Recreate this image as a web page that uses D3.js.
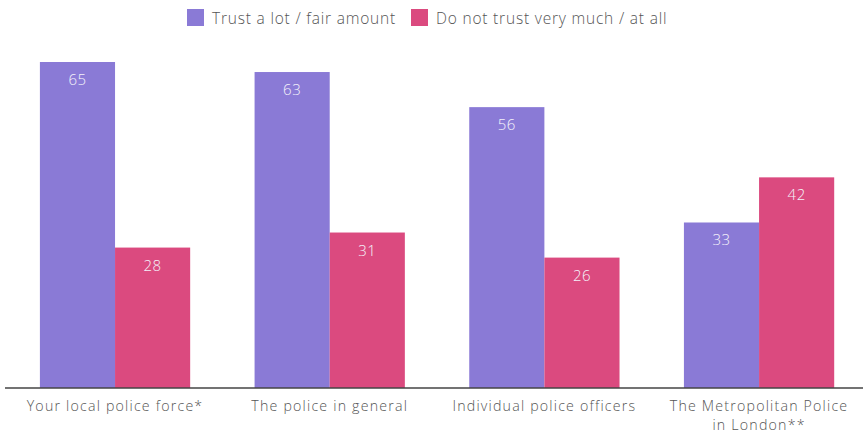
<!DOCTYPE html>
<html>
<head>
<meta charset="utf-8">
<script src="https://cdn.jsdelivr.net/npm/d3@7"></script>
<style>
  html, body { margin: 0; padding: 0; background: #fff; }
  svg { display: block; font-family: "Open Sans", Lato, sans-serif; font-weight: 300; }
</style>
</head>
<body>
<svg id="chart" width="863" height="435"></svg>
<script>
// Survey categories and the two response groups
const categories = [
  ["Your local police force*"],
  ["The police in general"],
  ["Individual police officers"],
  ["The Metropolitan Police", "in London**"]
];
const seriesNames = ["Trust a lot / fair amount", "Do not trust very much / at all"];
const trustValues = [65, 63, 56, 33];
const distrustValues = [28, 31, 26, 42];
const colors = ["#8a7ad6", "#db4a7f"];

const svg = d3.select("#chart");
const baseY = 388;

const x0 = d3.scaleBand()
  .domain(d3.range(categories.length))
  .range([7.7, 866.4])
  .paddingInner(0.3)
  .paddingOuter(0.15);

const x1 = d3.scaleBand()
  .domain([0, 1])
  .range([0, x0.bandwidth()]);

const y = d3.scaleLinear().domain([0, 65]).range([baseY, 62]);

const rows = categories.map((c, i) => [trustValues[i], distrustValues[i]]);

const groups = svg.append("g").selectAll("g")
  .data(rows)
  .join("g")
  .attr("transform", (d, i) => `translate(${x0(i)},0)`);

groups.selectAll("rect")
  .data(d => d)
  .join("rect")
  .attr("x", (d, j) => x1(j))
  .attr("width", x1.bandwidth())
  .attr("y", d => y(d))
  .attr("height", d => baseY - y(d))
  .attr("fill", (d, j) => colors[j]);

groups.selectAll("text.val")
  .data(d => d)
  .join("text")
  .attr("class", "val")
  .attr("x", (d, j) => x1(j) + x1.bandwidth() / 2)
  .attr("y", d => y(d) + 23)
  .attr("text-anchor", "middle")
  .attr("fill", "#f4f2fa")
  .attr("font-size", 15)
  .attr("letter-spacing", 0.5)
  .text(d => d);

// Baseline axis
const axis = d3.axisBottom(x0).tickSize(0).tickFormat("");
const axisG = svg.append("g").attr("transform", `translate(0,${baseY})`).call(axis);
axisG.select(".domain").attr("d", "M5,0H863").attr("stroke", "#444").attr("stroke-width", 1.5);

// Category labels, one text per line
const labelLines = categories.flatMap((lines, i) => lines.map((t, k) => ({ i, k, t })));
svg.append("g").selectAll("text")
  .data(labelLines)
  .join("text")
  .attr("x", d => x0(d.i) + x0.bandwidth() / 2)
  .attr("y", d => 410.5 + d.k * 19.4)
  .attr("text-anchor", "middle")
  .attr("fill", "#555")
  .attr("font-size", 14.2)
  .attr("letter-spacing", 1.2)
  .text(d => d.t);

// Legend
const legendX = [187, 411];
const legend = svg.append("g").selectAll("g")
  .data(seriesNames)
  .join("g")
  .attr("transform", (d, i) => `translate(${legendX[i]},9)`);
legend.append("rect")
  .attr("width", 17).attr("height", 17)
  .attr("fill", (d, i) => colors[i]);
legend.append("text")
  .attr("x", 25).attr("y", 14.5)
  .attr("fill", "#555")
  .attr("font-size", 15.5)
  .attr("letter-spacing", 0.8)
  .text(d => d);
</script>
</body>
</html>
